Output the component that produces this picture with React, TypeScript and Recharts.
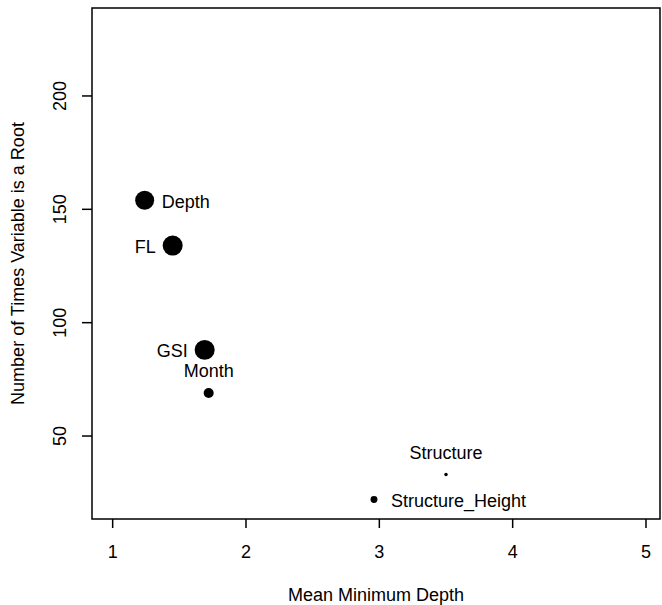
import { Label, ReferenceArea, Scatter, ScatterChart, XAxis, YAxis, ZAxis } from 'recharts';

const variables = ['Depth', 'FL', 'GSI', 'Month', 'Structure', 'Structure_Height'];
const meanMinDepth = [1.24, 1.45, 1.69, 1.72, 3.5, 2.96];
const timesRoot = [154, 134, 88, 69, 33, 22];
const importance = [90, 100, 100, 25, 3, 12];

const xTicks = [1, 2, 3, 4, 5];
const yTicks = [50, 100, 150, 200];

const X_DOMAIN: [number, number] = [0.845, 5.105];
const Y_DOMAIN: [number, number] = [13.4, 238.8];

const W = 662;
const H = 605;
const PLOT_LEFT = 92;
const PLOT_TOP = 8;
const PLOT_RIGHT = 660;
const PLOT_BOTTOM = 519;

const FONT = '"Liberation Sans", Arial, sans-serif';
const INK = '#000';

// which side of the point each label sits on
const labelSide: Record<string, 'left' | 'right' | 'top'> = {
  Depth: 'right',
  FL: 'left',
  GSI: 'left',
  Month: 'top',
  Structure: 'top',
  Structure_Height: 'right',
};

const points = variables.map((name, i) => ({
  name,
  depth: meanMinDepth[i],
  roots: timesRoot[i],
  importance: importance[i],
}));

const LabelledDot = (props: any) => {
  const { cx, cy, size, payload } = props;
  const r = Math.sqrt((size ?? 64) / Math.PI);
  const side = labelSide[payload.name];
  let tx = cx;
  let ty = cy + 7.5;
  let anchor: 'start' | 'middle' | 'end' = 'middle';
  if (side === 'right') {
    tx = cx + 17;
    anchor = 'start';
  } else if (side === 'left') {
    tx = cx - 17;
    anchor = 'end';
  } else {
    ty = cy - 16;
  }
  return (
    <g>
      <circle cx={cx} cy={cy} r={r} fill="#000" />
      <text x={tx} y={ty} textAnchor={anchor} fontSize={18} fontFamily={FONT} fill={INK}>
        {payload.name}
      </text>
    </g>
  );
};

const XTick = (props: any) => {
  const { x, y, payload } = props;
  return (
    <text x={x} y={y + 30} textAnchor="middle" fontSize={18} fontFamily={FONT} fill={INK}>
      {payload.value}
    </text>
  );
};

const YTick = (props: any) => {
  const { x, y, payload } = props;
  const tx = x - 16;
  return (
    <text
      x={tx}
      y={y}
      transform={`rotate(-90, ${tx}, ${y})`}
      textAnchor="middle"
      fontSize={18}
      fontFamily={FONT}
      fill={INK}
    >
      {payload.value}
    </text>
  );
};

export default function App() {
  const midX = (PLOT_LEFT + PLOT_RIGHT) / 2;
  const midY = (PLOT_TOP + PLOT_BOTTOM) / 2;
  return (
    <div style={{ position: 'absolute', left: 0, top: 0, background: '#fff' }}>
      <ScatterChart
        width={W}
        height={H}
        margin={{ top: PLOT_TOP, right: W - PLOT_RIGHT, bottom: 0, left: 0 }}
      >
        <XAxis
          type="number"
          dataKey="depth"
          domain={X_DOMAIN}
          ticks={xTicks}
          allowDataOverflow
          height={H - PLOT_BOTTOM}
          axisLine={false}
          tickSize={9}
          tickMargin={0}
          tickLine={{ stroke: INK, strokeWidth: 1.5 }}
          tick={<XTick />}
        >
          <Label
            content={() => (
              <text x={midX} y={601} textAnchor="middle" fontSize={18} fontFamily={FONT} fill={INK}>
                Mean Minimum Depth
              </text>
            )}
          />
        </XAxis>
        <YAxis
          type="number"
          dataKey="roots"
          domain={Y_DOMAIN}
          ticks={yTicks}
          allowDataOverflow
          width={PLOT_LEFT}
          axisLine={false}
          tickSize={10}
          tickMargin={0}
          tickLine={{ stroke: INK, strokeWidth: 1.5 }}
          tick={<YTick />}
        >
          <Label
            content={() => (
              <text
                x={24}
                y={midY}
                transform={`rotate(-90, 24, ${midY})`}
                textAnchor="middle"
                fontSize={18}
                fontFamily={FONT}
                fill={INK}
              >
                Number of Times Variable is a Root
              </text>
            )}
          />
        </YAxis>
        <ZAxis type="number" dataKey="importance" domain={[0, 100]} range={[0, 314]} />
        <ReferenceArea
          x1={X_DOMAIN[0]}
          x2={X_DOMAIN[1]}
          y1={Y_DOMAIN[0]}
          y2={Y_DOMAIN[1]}
          fill="none"
          stroke={INK}
          strokeWidth={1.5}
          ifOverflow="visible"
        />
        <Scatter data={points} shape={<LabelledDot />} isAnimationActive={false} />
      </ScatterChart>
    </div>
  );
}
